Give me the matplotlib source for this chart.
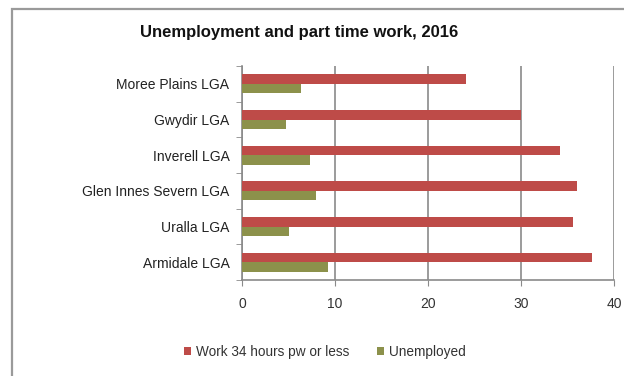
import matplotlib
matplotlib.use("Agg")
import matplotlib.pyplot as plt
from matplotlib.patches import Rectangle
import numpy as np

categories = ["Moree Plains LGA", "Gwydir LGA", "Inverell LGA",
              "Glen Innes Severn LGA", "Uralla LGA", "Armidale LGA"]
part_time = [24.1, 30.0, 34.2, 36.0, 35.6, 37.6]
unemployed = [6.3, 4.7, 7.3, 8.0, 5.1, 9.2]
series_names = ["Work 34 hours pw or less", "Unemployed"]
title = "Unemployment and part time work, 2016"

RED = "#BE4B48"
OLIVE = "#8C914B"

plt.rcParams["font.family"] = ["Liberation Sans", "DejaVu Sans"]

fig = plt.figure(figsize=(6.24, 3.76), dpi=100)
fig.patch.set_facecolor("white")

# chart frame (left and top edges visible)
fig.add_artist(Rectangle((12 / 624, -0.05), 1.2, 1 - 9 / 376 + 0.05,
                         transform=fig.transFigure, fill=False,
                         edgecolor="#9a9a9a", linewidth=1.6))

ax = fig.add_axes([242 / 624, 1 - 280 / 376, (614 - 242) / 624, (280 - 66) / 376])

n = len(categories)
y = np.arange(n)[::-1].astype(float)
h = 0.27
ax.barh(y + h / 2, part_time, height=h, color=RED, label=series_names[0], zorder=3)
ax.barh(y - h / 2, unemployed, height=h, color=OLIVE, label=series_names[1], zorder=3)

ax.set_xlim(0, 40)
ax.set_ylim(-0.5, n - 0.5)
ax.set_xticks([0, 10, 20, 30, 40])
ax.set_yticks(y)
ax.set_yticklabels(categories)
ax.set_yticks(np.arange(-0.5, n, 1.0), minor=True)

ax.grid(axis="x", color="#808080", linewidth=1.1, zorder=0)
for s in ["top", "right"]:
    ax.spines[s].set_visible(False)
for s in ["left", "bottom"]:
    ax.spines[s].set_color("#8a8a8a")
    ax.spines[s].set_linewidth(1.2)

ax.tick_params(axis="y", which="major", length=0, pad=9, labelsize=10, labelcolor="#222222")
ax.tick_params(axis="y", which="minor", length=4, color="#8a8a8a", direction="out")
ax.tick_params(axis="x", length=4, color="#8a8a8a", pad=8, labelsize=10, labelcolor="#333333")

fig.text(299 / 624, 1 - 33 / 376, title, ha="center", va="center",
         fontsize=12, fontweight="bold", color="#111111")

fig.legend(loc="center", bbox_to_anchor=(325 / 624, 1 - 352 / 376), ncol=2,
           frameon=False, fontsize=9.8, handlelength=0.5, handleheight=0.5,
           handletextpad=0.4, columnspacing=2.0, labelcolor="#333333")

fig.savefig("out.png", dpi=100, facecolor="white")
